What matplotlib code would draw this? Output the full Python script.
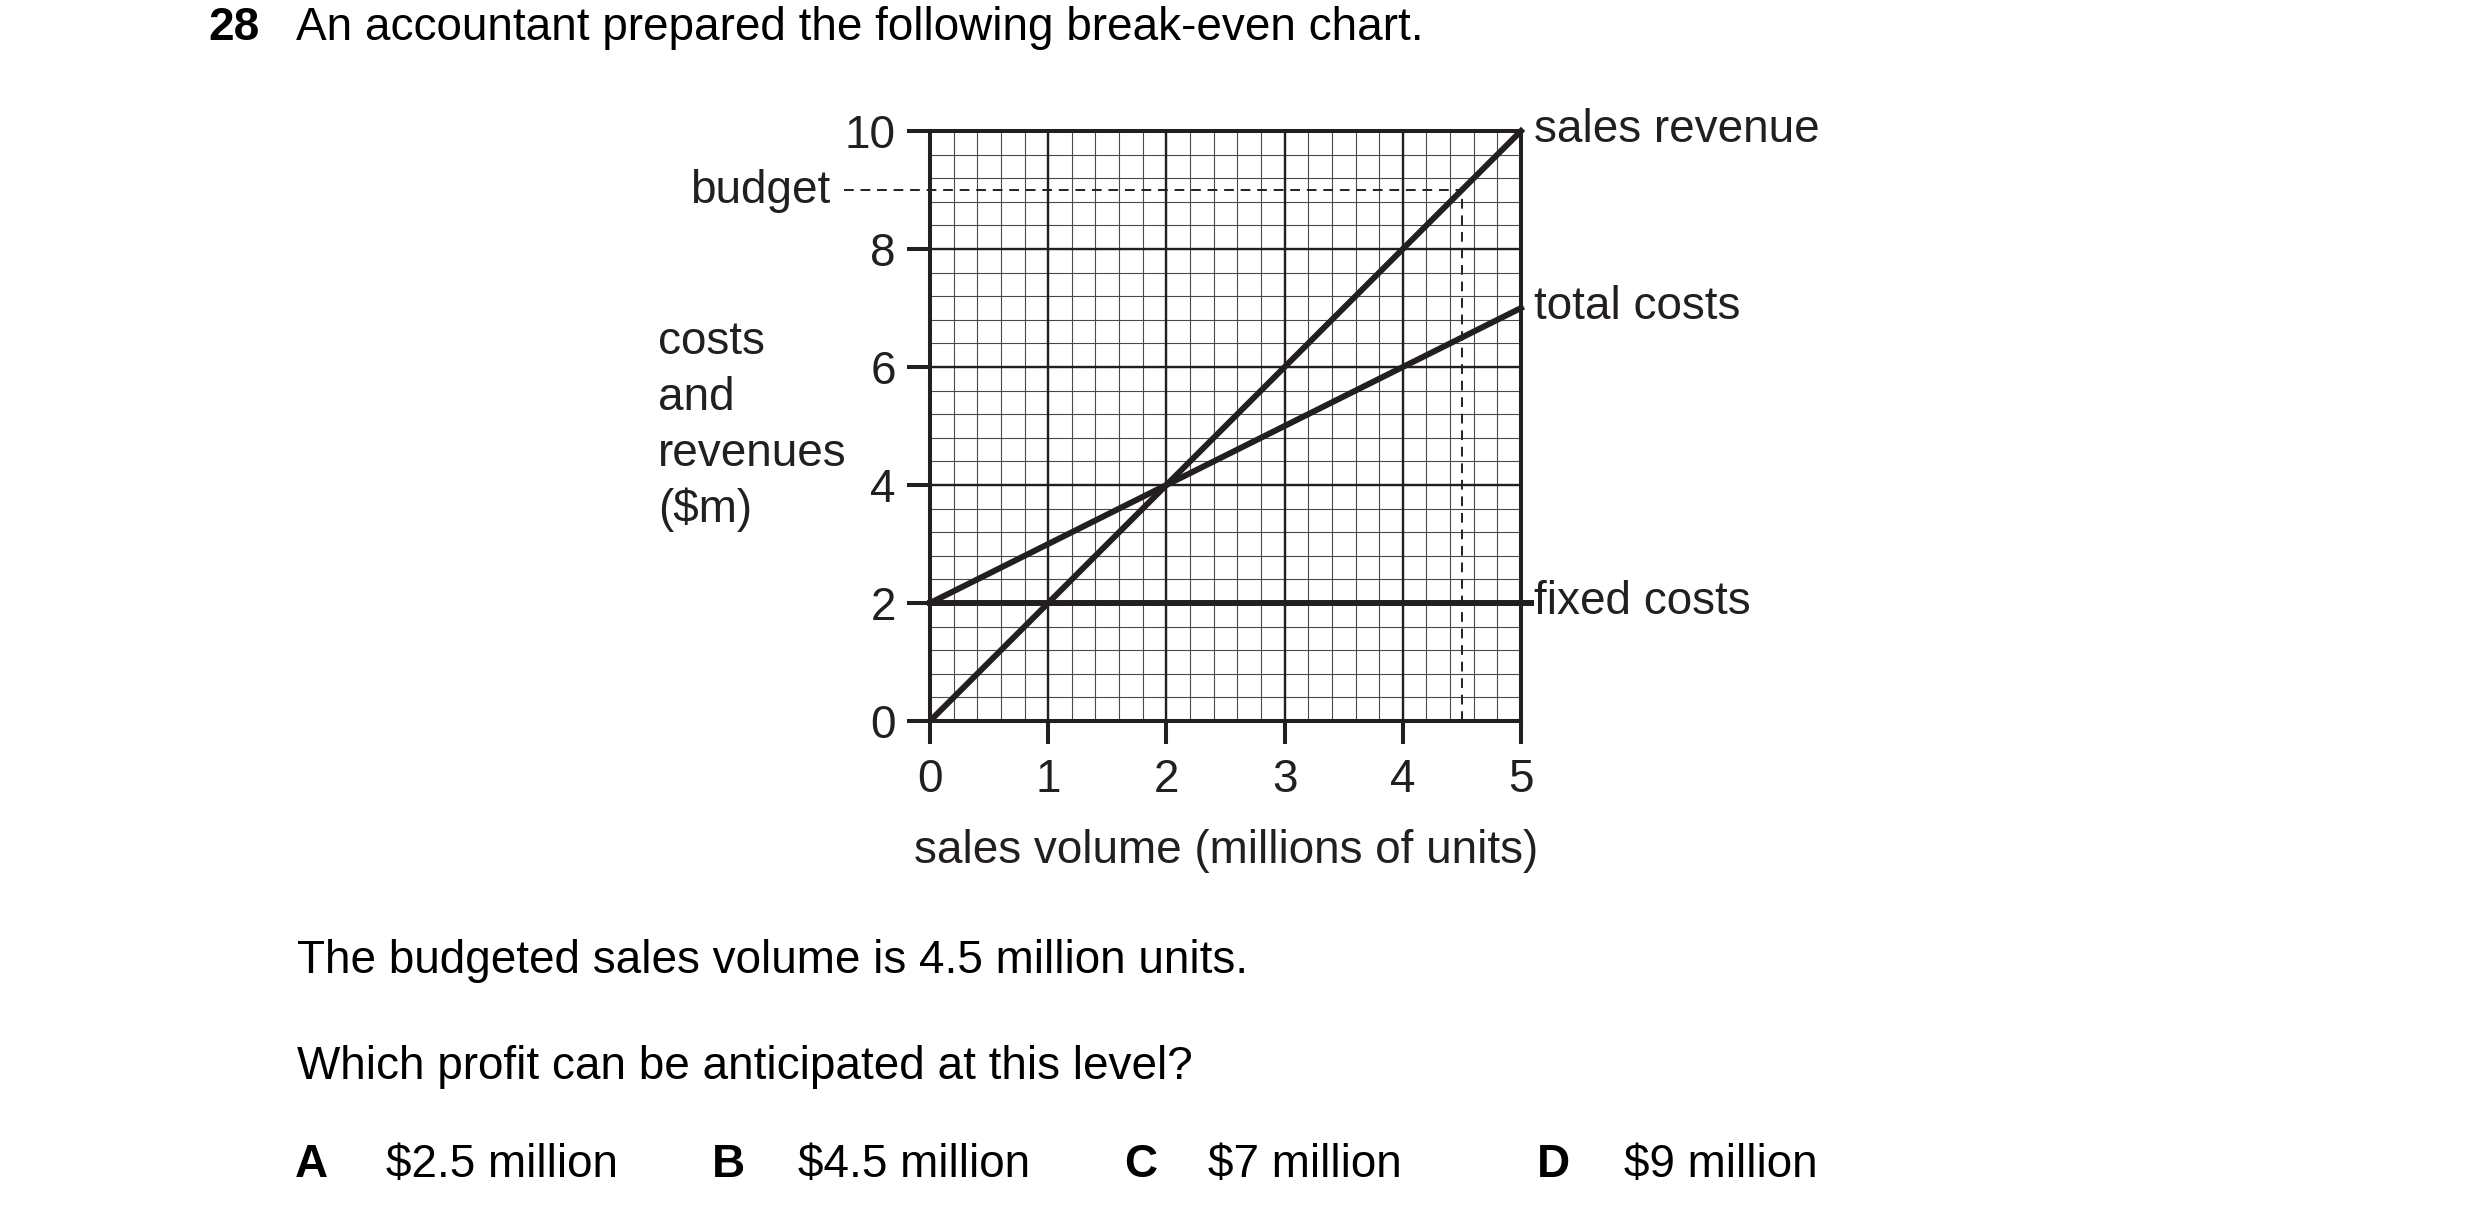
import numpy as np
import matplotlib
matplotlib.use("Agg")
import matplotlib.pyplot as plt

plt.rcParams['font.family'] = ['Liberation Sans', 'DejaVu Sans']

# break-even chart values ($m against millions of units)
volume = [0, 5]
sales_revenue = [0, 10]
total_costs = [2, 7]
fixed_costs = [2, 2]
budget_volume = 4.5
budget_revenue = 9

x_ticks = [0, 1, 2, 3, 4, 5]
y_ticks = [0, 2, 4, 6, 8, 10]

question_no = "28"
question = "An accountant prepared the following break-even chart."
stem_1 = "The budgeted sales volume is 4.5 million units."
stem_2 = "Which profit can be anticipated at this level?"
options = ["A", "B", "C", "D"]
answers = ["$2.5 million", "$4.5 million", "$7 million", "$9 million"]
ylabel_lines = ["costs", "and", "revenues", "($m)"]

W, H = 2480, 1222
INK = '#231f20'
FS = 33


def fx(px):
    return px / W


def fy(py):
    return 1 - py / H


fig = plt.figure(figsize=(W / 100, H / 100), dpi=100)
ax = fig.add_axes([fx(930), fy(721), (1521 - 930) / W, (721 - 131) / H])

ax.set_xlim(0, 5)
ax.set_ylim(0, 10)

# graph paper
for v in np.arange(0, 5.01, 0.2):
    ax.axvline(v, color='#4a4a4a', lw=0.8, zorder=1)
for v in np.arange(0, 10.01, 0.4):
    ax.axhline(v, color='#4a4a4a', lw=0.8, zorder=1)
for v in x_ticks:
    ax.axvline(v, color=INK, lw=1.7, zorder=1.5)
for v in y_ticks:
    ax.axhline(v, color=INK, lw=1.7, zorder=1.5)

lw = 4.3
ax.plot(volume, sales_revenue, color=INK, lw=lw, zorder=4, clip_on=False)
ax.plot(volume, total_costs, color=INK, lw=lw, zorder=4, clip_on=False)
ax.plot(volume, fixed_costs, color=INK, lw=lw, zorder=4, clip_on=False)
# short leader from fixed costs line to its label
ax.plot([volume[-1], volume[-1] + 0.11], [fixed_costs[-1]] * 2,
        color=INK, lw=lw, solid_capstyle='butt', zorder=4, clip_on=False)

# budget dashed guides
ax.plot([-0.73, budget_volume], [budget_revenue] * 2, color=INK, lw=1.4,
        dashes=(5, 3.5), zorder=3, clip_on=False)
ax.plot([budget_volume] * 2, [0, budget_revenue], color=INK, lw=1.4,
        dashes=(5, 3.5), zorder=3, clip_on=False)

for s in ax.spines.values():
    s.set_linewidth(2.9)
    s.set_color(INK)
    s.set_zorder(5)

ax.set_xticks(x_ticks)
ax.set_yticks(y_ticks)
ax.tick_params(axis='both', direction='out', length=16.5, width=2.9,
               color=INK, labelsize=FS, labelcolor=INK)
ax.tick_params(axis='x', pad=10)
ax.tick_params(axis='y', pad=8)

# line labels at the right
for val, name in [(sales_revenue[-1], "sales revenue"),
                  (total_costs[-1], "total costs"),
                  (fixed_costs[-1], "fixed costs")]:
    ax.annotate(name, xy=(volume[-1], val), xytext=(9.4, -8), textcoords='offset points',
                ha='left', va='baseline', fontsize=FS, color=INK, annotation_clip=False)

ax.annotate("budget", xy=(-0.73, budget_revenue), xytext=(-10, -1), textcoords='offset points',
            ha='right', va='center', fontsize=FS, color=INK, annotation_clip=False)

# axis titles
for i, line in enumerate(ylabel_lines):
    fig.text(fx(658), fy(354 + i * 56), line, ha='left', va='baseline', fontsize=FS, color=INK)
fig.text(fx(914), fy(863), "sales volume (millions of units)", ha='left', va='baseline',
         fontsize=FS, color=INK)

# question text
fig.text(fx(208), fy(40), question_no, ha='left', va='baseline', fontsize=FS,
         fontweight='bold', color='black')
fig.text(fx(296), fy(40), question, ha='left', va='baseline', fontsize=FS, color='black')
fig.text(fx(297), fy(973), stem_1, ha='left', va='baseline', fontsize=FS, color='black')
fig.text(fx(297), fy(1079), stem_2, ha='left', va='baseline', fontsize=FS, color='black')

letter_x = [295, 712, 1124, 1537]
answer_x = [386, 798, 1208, 1624]
for lx, axx, letter, ans in zip(letter_x, answer_x, options, answers):
    fig.text(fx(lx), fy(1177), letter, ha='left', va='baseline', fontsize=FS,
             fontweight='bold', color='black')
    fig.text(fx(axx), fy(1177), ans, ha='left', va='baseline', fontsize=FS, color='black')

fig.savefig("out.png", dpi=100, facecolor='white')
